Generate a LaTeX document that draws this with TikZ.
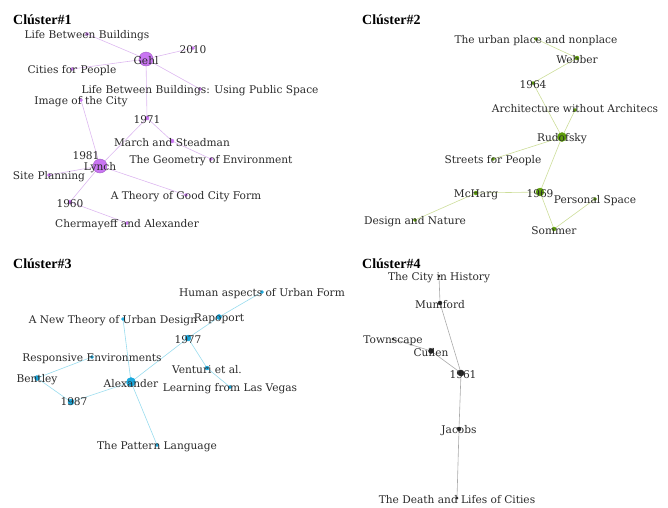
\documentclass[tikz,border=0pt]{standalone}
\usepackage{fontspec}
\setmainfont{DejaVu Serif}
\newfontfamily\titlefont{Liberation Serif}
\usepackage{tikz}

\definecolor{violetdot}{HTML}{C975F2}
\definecolor{violetedge}{HTML}{DDB8F0}
\definecolor{greendot}{HTML}{5E9E0A}
\definecolor{greenedge}{HTML}{CCDD98}
\definecolor{cyandot}{HTML}{1BA8DC}
\definecolor{cyanedge}{HTML}{98DCEE}
\definecolor{blackdot}{HTML}{222222}
\definecolor{blackedge}{HTML}{AAAAAA}
\definecolor{labelgray}{HTML}{2A2A2A}

\begin{document}
\begin{tikzpicture}[x=1pt,y=-1pt,
  lbl/.style={font=\fontsize{10.6}{10.6}\selectfont, text=labelgray, inner sep=0pt, yshift=-2pt},
  title/.style={font=\titlefont\fontsize{14}{14}\selectfont\bfseries, anchor=west, inner sep=0pt},
  edge/.style={line width=0.6pt}]

\useasboundingbox (0,0) rectangle (668,507);

% ---------------- Cluster 1 ----------------
\node[title] (T1) at (13,20) {Clúster\#1};

% vertices
\coordinate (LBB) at (87,34);
\coordinate (Gehl) at (146,59);
\coordinate (Y2010) at (193,48);
\coordinate (CfP) at (72,69);
\coordinate (LBBU) at (200,89);
\coordinate (IotC) at (81,100);
\coordinate (Y1971) at (147,118);
\coordinate (MaS) at (172,141);
\coordinate (GoE) at (211,159);
\coordinate (Y1981) at (86,154);
\coordinate (Lynch) at (100,166);
\coordinate (SiteP) at (49,175);
\coordinate (Y1960) at (70,202);
\coordinate (ToGCF) at (186,195);
\coordinate (CaA) at (127,223);

% edges
\draw[edge, violetedge] (LBB) -- (Gehl);
\draw[edge, violetedge] (Gehl) -- (Y2010);
\draw[edge, violetedge] (Gehl) -- (CfP);
\draw[edge, violetedge] (Gehl) -- (LBBU);
\draw[edge, violetedge] (Gehl) -- (Y1971);
\draw[edge, violetedge] (Y1971) -- (MaS);
\draw[edge, violetedge] (MaS) -- (GoE);
\draw[edge, violetedge] (Y1971) -- (Lynch);
\draw[edge, violetedge] (Lynch) -- (IotC);
\draw[edge, violetedge] (Lynch) -- (SiteP);
\draw[edge, violetedge] (Lynch) -- (Y1960);
\draw[edge, violetedge] (Lynch) -- (ToGCF);
\draw[edge, violetedge] (Y1960) -- (CaA);

% points
\filldraw[violetdot, draw=violetdot!80!black, line width=0.4pt] (Gehl) circle (7);
\filldraw[violetdot, draw=violetdot!80!black, line width=0.4pt] (Lynch) circle (7);
\filldraw[violetdot] (Y1971) circle (2);
\filldraw[violetdot] (MaS) circle (2);
\filldraw[violetdot] (Y1960) circle (2);
\foreach \p in {LBB,Y2010,CfP,LBBU,IotC,GoE,SiteP,ToGCF,CaA}
  \filldraw[violetdot] (\p) circle (1.5);

% labels
\node[lbl] (LBB-l) at (LBB) {Life Between Buildings};
\node[lbl] (Gehl-l) at (Gehl) {Gehl};
\node[lbl] (Y2010-l) at (Y2010) {2010};
\node[lbl] (CfP-l) at (CfP) {Cities for People};
\node[lbl] (LBBU-l) at (LBBU) {Life Between Buildings: Using Public Space};
\node[lbl] (IotC-l) at (IotC) {Image of the City};
\node[lbl] (Y1971-l) at (Y1971) {1971};
\node[lbl] (MaS-l) at (MaS) {March and Steadman};
\node[lbl] (GoE-l) at (GoE) {The Geometry of Environment};
\node[lbl] (Y1981-l) at (Y1981) {1981};
\node[lbl] (Lynch-l) at (Lynch) {Lynch};
\node[lbl] (SiteP-l) at (SiteP) {Site Planning};
\node[lbl] (Y1960-l) at (Y1960) {1960};
\node[lbl] (ToGCF-l) at (ToGCF) {A Theory of Good City Form};
\node[lbl] (CaA-l) at (CaA) {Chermayeff and Alexander};

% ---------------- Cluster 2 ----------------
\node[title] (T2) at (362,20) {Clúster\#2};

% vertices
\coordinate (UPN) at (536,39);
\coordinate (Webber) at (577,58);
\coordinate (Y1964) at (533,83);
\coordinate (AwA) at (575,110);
\coordinate (Rudofsky) at (562,137);
\coordinate (SfP) at (493,159);
\coordinate (Y1969) at (540,192);
\coordinate (McHarg) at (476,193);
\coordinate (DaN) at (415,220);
\coordinate (PS) at (595,199);
\coordinate (Sommer) at (554,229);

% edges
\draw[edge, greenedge] (UPN) -- (Webber);
\draw[edge, greenedge] (Webber) -- (Y1964);
\draw[edge, greenedge] (Y1964) -- (Rudofsky);
\draw[edge, greenedge] (AwA) -- (Rudofsky);
\draw[edge, greenedge] (Rudofsky) -- (SfP);
\draw[edge, greenedge] (Rudofsky) -- (Y1969);
\draw[edge, greenedge] (Y1969) -- (McHarg);
\draw[edge, greenedge] (McHarg) -- (DaN);
\draw[edge, greenedge] (Y1969) -- (Sommer);
\draw[edge, greenedge] (Sommer) -- (PS);

% points
\filldraw[greendot] (Rudofsky) circle (4.5);
\filldraw[greendot] (Y1969) circle (4);
\filldraw[greendot] (Webber) circle (2);
\filldraw[greendot] (McHarg) circle (2);
\filldraw[greendot] (Sommer) circle (2);
\foreach \p in {UPN,Y1964,AwA,SfP,DaN,PS}
  \filldraw[greendot] (\p) circle (1.5);

% labels
\node[lbl] (UPN-l) at (UPN) {The urban place and nonplace};
\node[lbl] (Webber-l) at (Webber) {Webber};
\node[lbl] (Y1964-l) at (Y1964) {1964};
\node[lbl, yshift=3pt] (AwA-l) at (AwA) {Architecture without Architecs};
\node[lbl] (Rudofsky-l) at (Rudofsky) {Rudofsky};
\node[lbl] (SfP-l) at (SfP) {Streets for People};
\node[lbl] (Y1969-l) at (Y1969) {1969};
\node[lbl] (McHarg-l) at (McHarg) {McHarg};
\node[lbl] (DaN-l) at (DaN) {Design and Nature};
\node[lbl] (PS-l) at (PS) {Personal Space};
\node[lbl] (Sommer-l) at (Sommer) {Sommer};

% ---------------- Cluster 3 ----------------
\node[title] (T3) at (13,264) {Clúster\#3};

% vertices
\coordinate (HAUF) at (262,292);
\coordinate (Rapoport) at (219,317);
\coordinate (ANToUD) at (123,319);
\coordinate (Y1977) at (188,338);
\coordinate (RE) at (92,357);
\coordinate (Venturi) at (207,368);
\coordinate (Bentley) at (37,378);
\coordinate (Alexander) at (131,382);
\coordinate (LfLV) at (230,387);
\coordinate (Y1987) at (71,402);
\coordinate (TPL) at (157,445);

% edges
\draw[edge, cyanedge] (HAUF) -- (Rapoport);
\draw[edge, cyanedge] (Rapoport) -- (Y1977);
\draw[edge, cyanedge] (Y1977) -- (Alexander);
\draw[edge, cyanedge] (Y1977) -- (Venturi);
\draw[edge, cyanedge] (Venturi) -- (LfLV);
\draw[edge, cyanedge] (Alexander) -- (ANToUD);
\draw[edge, cyanedge] (Alexander) -- (TPL);
\draw[edge, cyanedge] (Alexander) -- (Y1987);
\draw[edge, cyanedge] (Y1987) -- (Bentley);
\draw[edge, cyanedge] (Bentley) -- (RE);

% points
\filldraw[cyandot] (Alexander) circle (4.5);
\filldraw[cyandot] (Y1977) circle (3);
\filldraw[cyandot] (Y1987) circle (3);
\filldraw[cyandot] (Rapoport) circle (2.5);
\filldraw[cyandot] (Bentley) circle (2.5);
\filldraw[cyandot] (Venturi) circle (2);
\foreach \p in {HAUF,ANToUD,RE,LfLV,TPL}
  \filldraw[cyandot] (\p) circle (1.5);

% labels
\node[lbl] (HAUF-l) at (HAUF) {Human aspects of Urban Form};
\node[lbl] (Rapoport-l) at (Rapoport) {Rapoport};
\node[lbl, xshift=-10pt] (ANToUD-l) at (ANToUD) {A New Theory of Urban Design};
\node[lbl] (Y1977-l) at (Y1977) {1977};
\node[lbl] (RE-l) at (RE) {Responsive Environments};
\node[lbl] (Venturi-l) at (Venturi) {Venturi et al.};
\node[lbl] (Bentley-l) at (Bentley) {Bentley};
\node[lbl] (Alexander-l) at (Alexander) {Alexander};
\node[lbl] (LfLV-l) at (LfLV) {Learning from Las Vegas};
\node[lbl, xshift=3pt, yshift=2pt] (Y1987-l) at (Y1987) {1987};
\node[lbl] (TPL-l) at (TPL) {The Pattern Language};

% ---------------- Cluster 4 ----------------
\node[title] (T4) at (362,264) {Clúster\#4};

% vertices
\coordinate (TCiH) at (439,276);
\coordinate (Mumford) at (440,303);
\coordinate (Townscape) at (393,339);
\coordinate (Cullen) at (431,351);
\coordinate (Y1961) at (461,373);
\coordinate (Jacobs) at (459,429);
\coordinate (TDaLoC) at (457,498);

% edges
\draw[edge, blackedge] (TCiH) -- (Mumford);
\draw[edge, blackedge] (Mumford) -- (Y1961);
\draw[edge, blackedge] (Townscape) -- (Cullen);
\draw[edge, blackedge] (Cullen) -- (Y1961);
\draw[edge, blackedge] (Y1961) -- (Jacobs);
\draw[edge, blackedge] (Jacobs) -- (TDaLoC);

% points
\filldraw[blackdot] (Y1961) circle (3);
\filldraw[blackdot] (Cullen) circle (2.5);
\filldraw[blackdot] (Mumford) circle (2);
\filldraw[blackdot] (Jacobs) circle (2);
\foreach \p in {TCiH,Townscape,TDaLoC}
  \filldraw[blackdot] (\p) circle (1.2);

% labels
\node[lbl] (TCiH-l) at (TCiH) {The City in History};
\node[lbl] (Mumford-l) at (Mumford) {Mumford};
\node[lbl] (Townscape-l) at (Townscape) {Townscape};
\node[lbl] (Cullen-l) at (Cullen) {Cullen};
\node[lbl, xshift=2pt] (Y1961-l) at (Y1961) {1961};
\node[lbl] (Jacobs-l) at (Jacobs) {Jacobs};
\node[lbl] (TDaLoC-l) at (TDaLoC) {The Death and Lifes of Cities};

\end{tikzpicture}
\end{document}
